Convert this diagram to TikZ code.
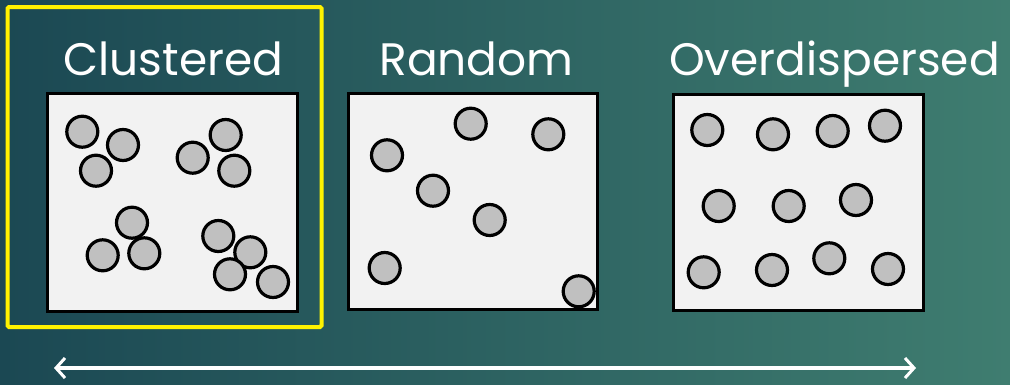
\documentclass[tikz,border=0pt]{standalone}
\usepackage{fontspec}
\setmainfont{Poppins}
\usetikzlibrary{arrows.meta}
\definecolor{bgL}{HTML}{1B4853}
\definecolor{bgR}{HTML}{3F7D70}
\definecolor{boxfill}{HTML}{F2F2F2}
\definecolor{dot}{HTML}{C0C0C0}
\tikzset{
  dotc/.style={circle,draw=black,fill=dot,line width=3.2pt,minimum size=31pt,inner sep=0pt},
  plot/.style={draw=black,fill=boxfill,line width=3pt},
  ttl/.style={text=white,font=\fontsize{45.5}{50}\selectfont,anchor=base,inner sep=0pt},
}
\begin{document}
\begin{tikzpicture}[x=1pt,y=-1pt]
\shade[left color=bgL,right color=bgR] (0,0) rectangle (1010,384);
\useasboundingbox (0,0) rectangle (1010,384);
% selection frame
\draw[yellow,line width=4pt,rounded corners=1.5pt] (7.5,7) rectangle (321.5,327);
% titles
\node[ttl] (t1) at (173.5,75) {Clustered};
\node[ttl] (t2) at (476.5,75) {Random};
\node[ttl] (t3) at (834.5,75) {Overdispersed};
% boxes
\draw[plot] (47,93) rectangle (297.5,311);
\draw[plot] (348.5,93) rectangle (597.5,309);
\draw[plot] (673.5,94) rectangle (923,310);
% clustered
\foreach \n/\x/\y in {a1/82.3/131.7,a2/123/145,a3/96/170.7,a4/192.7/157.7,a5/225.7/135,a6/234.3/170.7,a7/132/222.7,a8/102.7/255.3,a9/144.3/253.3,a10/218.3/236,a11/250.3/252.3,a12/230/274.3,a13/273/282}
  \node[dotc] (\n) at (\x,\y) {};
% random
\foreach \n/\x/\y in {b1/470.7/123.7,b2/548.3/134.3,b3/387/155.3,b4/433/190.7,b5/489.7/220,b6/384.7/268,b7/578.7/291.3}
  \node[dotc] (\n) at (\x,\y) {};
% overdispersed
\foreach \n/\x/\y in {c1/707.3/130,c2/773/134.3,c3/832.7/131,c4/885/125.7,c5/718.7/206,c6/788.7/206,c7/856/200,c8/703.7/272.3,c9/772/270,c10/829.3/258.3,c11/888/269}
  \node[dotc] (\n) at (\x,\y) {};
% arrow
\coordinate (l) at (54,368);
\coordinate (r) at (916,368);
\draw[white,line width=3.5pt,{Straight Barb[length=9pt,width=20pt,line width=3pt]}-{Straight Barb[length=9pt,width=20pt,line width=3pt]}] (l) -- (r);
\end{tikzpicture}
\end{document}
